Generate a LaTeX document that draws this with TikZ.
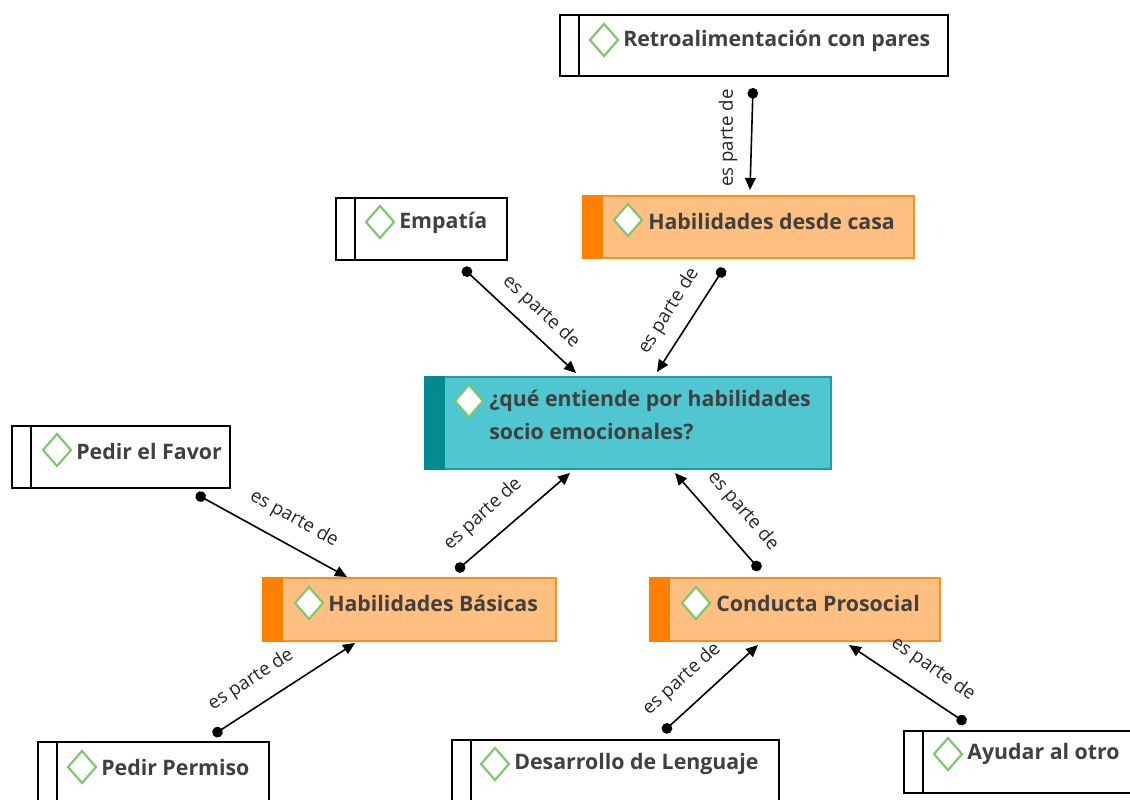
\documentclass[tikz,border=0pt]{standalone}
\usepackage{fontspec}
\setmainfont{Open Sans}
\usetikzlibrary{arrows.meta,calc}
\definecolor{txt}{RGB}{64,64,64}
\definecolor{orfill}{RGB}{255,191,128}
\definecolor{ordark}{RGB}{255,128,0}
\definecolor{orline}{RGB}{255,140,30}
\definecolor{tlfill}{RGB}{79,198,208}
\definecolor{tldark}{RGB}{0,139,145}
\definecolor{tlline}{RGB}{25,160,170}
\definecolor{dmgreen}{RGB}{125,200,110}
\begin{document}
\begin{tikzpicture}[x=0.75pt,y=-0.75pt,
  bx/.style n args={2}{rectangle,inner sep=0pt,minimum width=#1*0.75pt,minimum height=#2*0.75pt},
  wbox/.style={draw=black,fill=white,line width=1.5pt},
  obox/.style={draw=orline,fill=orfill,line width=1.5pt},
  tbox/.style={draw=tlline,fill=tlfill,line width=1.5pt},
  ttl/.style={anchor=west,inner sep=0pt,text=txt,font=\fontsize{16}{24.5}\selectfont\bfseries,align=left},
  lbl/.style={inner sep=0pt,font=\fontsize{14}{16}\selectfont,text=black!85},
  conn/.style={line width=1.2pt,{Circle[length=8pt]}-{Triangle[length=9pt,width=8pt]}},
  dm/.pic={\draw[draw=dmgreen,fill=white,line width=1.6pt] (-14,0)--(0,-16)--(14,0)--(0,16)--cycle;}
]
\useasboundingbox (0,0) rectangle (1130,799);
% boxes
\node[bx={388}{61},wbox] (retro) at (754,45.5) {};
\node[bx={330}{62},obox] (hdc) at (749,227) {};
\node[bx={171}{62},wbox] (emp) at (421.5,229) {};
\node[bx={405}{92},tbox] (cen) at (628.5,423) {};
\node[bx={218}{62},wbox] (pef) at (121,457) {};
\node[bx={292}{63},obox] (hb) at (410,609.5) {};
\node[bx={289}{63},obox] (cp) at (795.5,609.5) {};
\node[bx={231}{68},wbox] (pp) at (153.5,776) {};
\node[bx={327}{70},wbox] (dl) at (615.5,775) {};
\node[bx={231}{62},wbox] (ao) at (1019.5,762) {};
% strips
\foreach \n in {retro,emp,pef,pp,dl,ao}{
  \draw[line width=1.5pt] ($(\n.north west)+(19.5,0)$) -- ($(\n.south west)+(19.5,0)$);}
\foreach \n in {hdc,hb,cp}{
  \fill[ordark] ($(\n.north west)+(-1,0)$) rectangle ($(\n.south west)+(20,0)$);}
\fill[tldark] ($(cen.north west)+(-1,0)$) rectangle ($(cen.south west)+(20,0)$);
% icons
\pic at (604,40) {dm};
\pic at (628,220) {dm};
\pic at (380,222) {dm};
\pic at (469,401) {dm};
\pic at (57,450) {dm};
\pic at (309,603) {dm};
\pic at (696,603) {dm};
\pic at (82,767) {dm};
\pic at (495,764) {dm};
\pic at (948,754) {dm};
% titles
\node[ttl] (tretro) at (623,41) {Retroalimentación con pares};
\node[ttl] (thdc) at (648,221) {Habilidades desde casa};
\node[ttl] (temp) at (399,223) {Empatía};
\node[ttl,anchor=north west] (tcen) at (489,390) {¿qué entiende por habilidades\\socio emocionales?};
\node[ttl] (tpef) at (76,451) {Pedir el Favor};
\node[ttl] (thb) at (328,603) {Habilidades Básicas};
\node[ttl] (tcp) at (716,603) {Conducta Prosocial};
\node[ttl] (tpp) at (101,767) {Pedir Permiso};
\node[ttl] (tdl) at (514,764) {Desarrollo de Lenguaje};
\node[ttl] (tao) at (967,754) {Ayudar al otro};
% connector endpoints
\coordinate (s1) at (753,88);  \coordinate (e1) at (750,190);
\coordinate (s2) at (463,268); \coordinate (e2) at (576,373);
\coordinate (s3) at (724,268); \coordinate (e3) at (657,372);
\coordinate (s4) at (196,494); \coordinate (e4) at (347,577);
\coordinate (s5) at (456,571); \coordinate (e5) at (570,473);
\coordinate (s6) at (760,570); \coordinate (e6) at (675,473);
\coordinate (s7) at (213,735); \coordinate (e7) at (355,643);
\coordinate (s8) at (663,732); \coordinate (e8) at (758,645);
\coordinate (s9) at (966,723); \coordinate (e9) at (849,645);
\foreach \i in {1,...,9}{\draw[conn] (s\i) -- (e\i);}
% labels
\node[lbl,rotate=90] (l1) at (728,138) {es parte de};
\node[lbl,rotate=-43] (l2) at (541,312) {es parte de};
\node[lbl,rotate=58] (l3) at (669,311) {es parte de};
\node[lbl,rotate=-29] (l4) at (294,519) {es parte de};
\node[lbl,rotate=42] (l5) at (483,514) {es parte de};
\node[lbl,rotate=-49] (l6) at (743,511) {es parte de};
\node[lbl,rotate=33] (l7) at (251,680) {es parte de};
\node[lbl,rotate=42] (l8) at (682,679) {es parte de};
\node[lbl,rotate=-35] (l9) at (933,669) {es parte de};
\end{tikzpicture}
\end{document}
